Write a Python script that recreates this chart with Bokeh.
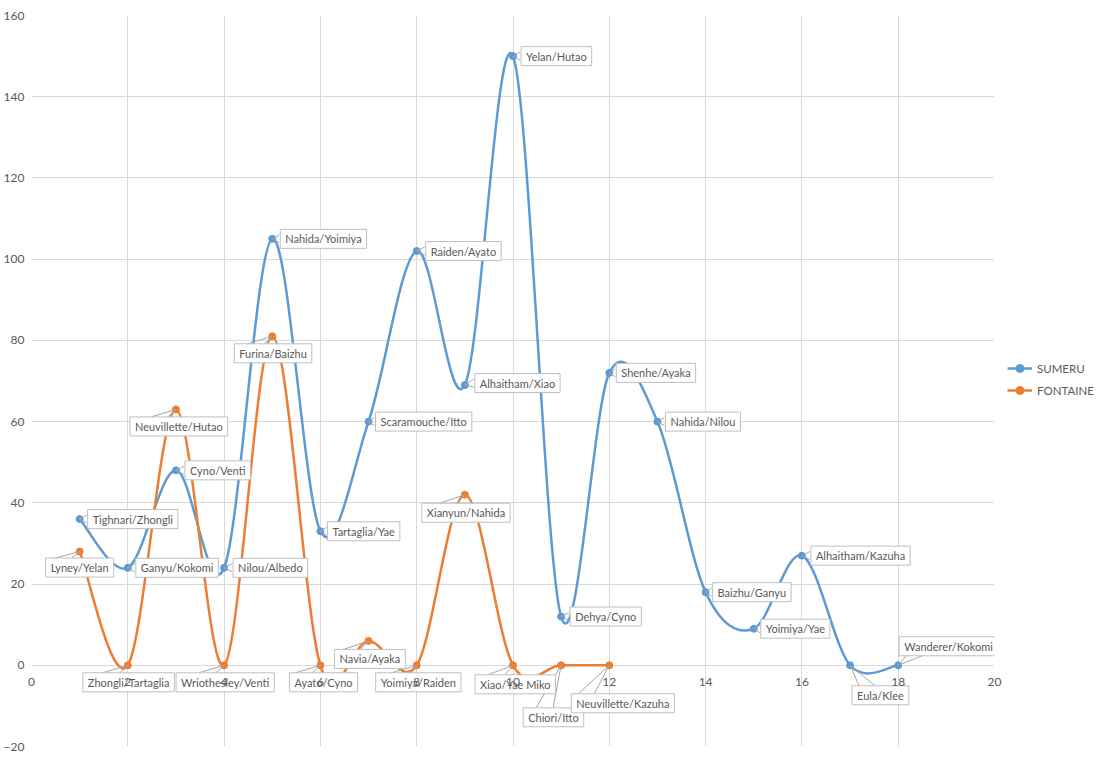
import numpy as np
from bokeh.plotting import figure
from bokeh.models import Range1d, FixedTicker, Label, Legend, LegendItem
from bokeh.core.properties import value
from bokeh.embed import file_html
from bokeh.resources import INLINE

# ---------------- data ----------------
sumeru_x = [1, 2, 3, 4, 5, 6, 7, 8, 9, 10, 11, 12, 13, 14, 15, 16, 17, 18]
sumeru_y = [36, 24, 48, 24, 105, 33, 60, 102, 69, 150, 12, 72, 60, 18, 9, 27, 0, 0]
sumeru_labels = ["Tighnari/Zhongli", "Ganyu/Kokomi", "Cyno/Venti", "Nilou/Albedo",
                 "Nahida/Yoimiya", "Tartaglia/Yae", "Scaramouche/Itto", "Raiden/Ayato",
                 "Alhaitham/Xiao", "Yelan/Hutao", "Dehya/Cyno", "Shenhe/Ayaka",
                 "Nahida/Nilou", "Baizhu/Ganyu", "Yoimiya/Yae", "Alhaitham/Kazuha",
                 "Eula/Klee", "Wanderer/Kokomi"]

fontaine_x = [1, 2, 3, 4, 5, 6, 7, 8, 9, 10, 11, 12]
fontaine_y = [28, 0, 63, 0, 81, 0, 6, 0, 42, 0, 0, 0]
fontaine_labels = ["Lyney/Yelan", "Zhongli/Tartaglia", "Neuvillette/Hutao",
                   "Wriothesley/Venti", "Furina/Baizhu", "Ayato/Cyno", "Navia/Ayaka",
                   "Yoimiya/Raiden", "Xianyun/Nahida", "Xiao/Yae Miko", "Chiori/Itto",
                   "Neuvillette/Kazuha"]

series_names = ["SUMERU", "FONTAINE"]
x_ticks = [0, 2, 4, 6, 8, 10, 12, 14, 16, 18, 20]
x_tick_labels = ["0", "2", "4", "6", "8", "10", "12", "14", "16", "18", "20"]
y_ticks = [-20, 0, 20, 40, 60, 80, 100, 120, 140, 160]

# ---------------- layout / style ----------------
# label box offsets in screen pixels (box-left minus point x, box-center minus point y; y down)
sumeru_offsets = [(7, 0), (7, 0), (8, 0), (8, 0), (7, 0), (6, 0), (6, 0), (8, 0), (9, -2),
                  (7, 0), (8, 0), (6, 0), (7, 0), (6, 0), (6, 0), (8, 0), (1, 30), (0, -19)]
fontaine_offsets = [(-35, 16), (-46, 17), (-47, 17), (-49, 17), (-39, 17), (-32, 17),
                    (-35, 18), (-42, 17), (-44, 18), (-39, 19), (-39, 52), (-39, 38)]

BLUE = "#5B9BD5"
ORANGE = "#ED7D31"
TXT = "#595959"
GRID = "#d9d9d9"
FONT = "Lato"
FW, FH = 963, 731
XMIN, XMAX, YMIN, YMAX = 0, 20, -20, 160
kx = FW / (XMAX - XMIN)
ky = FH / (YMAX - YMIN)
PADX, PADY = 5, 3
BOX_H = 19
CHAR_W = 5.1
SHIFT = 4  # text-box placement correction

p = figure(frame_width=FW, frame_height=FH,
           x_range=Range1d(XMIN, XMAX), y_range=Range1d(YMIN, YMAX),
           output_backend="svg", toolbar_location=None,
           min_border_left=31, min_border_right=105, min_border_top=15, min_border_bottom=13)
p.outline_line_color = None
p.background_fill_color = "white"
p.border_fill_color = "white"

p.xaxis.visible = False
p.xgrid.ticker = FixedTicker(ticks=x_ticks)
p.xgrid.grid_line_color = GRID
p.xgrid.grid_line_width = 1

p.yaxis.ticker = FixedTicker(ticks=y_ticks)
p.yaxis.axis_line_color = None
p.yaxis.major_tick_line_color = None
p.yaxis.minor_tick_line_color = None
p.yaxis.major_tick_out = 0
p.yaxis.major_tick_in = 0
p.yaxis.major_label_standoff = 7
p.yaxis.major_label_text_font = FONT
p.yaxis.major_label_text_font_size = "12px"
p.yaxis.major_label_text_color = TXT
p.ygrid.grid_line_color = GRID
p.ygrid.grid_line_width = 1


def smooth_segments(xs, ys):
    x = np.asarray(xs, float)
    y = np.asarray(ys, float)
    n = len(x)
    xp = np.concatenate([[x[0]], x, [x[-1]]])
    yp = np.concatenate([[y[0]], y, [y[-1]]])
    cx0 = x[:-1] + (xp[2:n + 1] - xp[0:n - 1]) / 6.0
    cy0 = y[:-1] + (yp[2:n + 1] - yp[0:n - 1]) / 6.0
    cx1 = x[1:] - (xp[3:n + 2] - xp[1:n]) / 6.0
    cy1 = y[1:] - (yp[3:n + 2] - yp[1:n]) / 6.0
    return dict(x0=x[:-1], y0=y[:-1], x1=x[1:], y1=y[1:], cx0=cx0, cy0=cy0, cx1=cx1, cy1=cy1)


def make_padding():
    try:
        Label(padding=(PADX, PADY))
        return (PADX, PADY)
    except Exception:
        return 4


PAD = make_padding()

legend_items = []
for name, xs, ys, labels, offsets, color in [
        (series_names[0], sumeru_x, sumeru_y, sumeru_labels, sumeru_offsets, BLUE),
        (series_names[1], fontaine_x, fontaine_y, fontaine_labels, fontaine_offsets, ORANGE)]:
    seg = smooth_segments(xs, ys)
    p.bezier(**seg, line_color=color, line_width=2.5)
    sc = p.scatter(xs, ys, size=7, fill_color=color, line_color=color, marker="circle")
    ln = p.line(x=xs[:1], y=ys[:1], line_color=color, line_width=2.5)
    legend_items.append(LegendItem(label=name, renderers=[ln, sc]))

    # leaders + labels
    lx0, ly0, lx1, ly1 = [], [], [], []
    for xv, yv, txt, (dx, dy) in zip(xs, ys, labels, offsets):
        w = len(txt) * CHAR_W + 2 * PADX
        if abs(dy) < 6:
            ends = [(dx, dy - 4), (dx, dy + 4)]
        else:
            edge = dy - BOX_H / 2 if dy > 0 else dy + BOX_H / 2
            if dx + w / 2 > 10:
                e1, e2 = dx + 8, dx + 24
            else:
                e1, e2 = max(dx + 6, -25), min(dx + w - 6, -8)
            ends = [(e1, edge), (e2, edge)]
        for ex, ey in ends:
            lx0.append(xv)
            ly0.append(yv)
            lx1.append(xv + ex / kx)
            ly1.append(yv - ey / ky)
        p.add_layout(Label(x=xv, y=yv, x_units="data", y_units="data",
                           x_offset=dx + PADX - SHIFT, y_offset=-dy, text=txt,
                           text_font=FONT, text_font_size="11px", text_color=TXT,
                           text_align="left", text_baseline="middle",
                           background_fill_color="white", border_line_color="#bfbfbf",
                           border_line_width=1, padding=PAD))
    p.segment(x0=lx0, y0=ly0, x1=lx1, y1=ly1, line_color="#a6a6a6", line_width=1)

# x tick labels at y = 0 (axis crosses at zero)
p.text(x=x_ticks, y=np.zeros(len(x_ticks)), text=x_tick_labels, text_align="center",
       text_baseline="middle", y_offset=17, text_font=value(FONT), text_font_size="12px",
       text_color=TXT, level="overlay")

legend = Legend(items=legend_items, location=(13, 346), orientation="vertical",
                border_line_color=None, background_fill_alpha=0, padding=0, margin=0,
                spacing=2, glyph_width=25, glyph_height=20, label_height=20,
                label_standoff=5, label_text_font=FONT, label_text_font_size="11.5px",
                label_text_color=TXT)
p.add_layout(legend, "right")

open("out.html", "w").write(file_html(p, INLINE))
